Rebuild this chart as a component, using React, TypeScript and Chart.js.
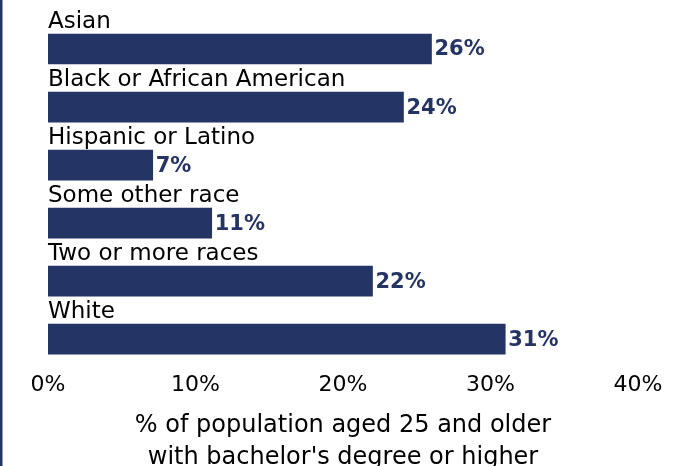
import React, { useEffect, useRef } from "react";
import { Chart, registerables } from "chart.js";

Chart.register(...registerables);

const categories = [
  "Asian",
  "Black or African American",
  "Hispanic or Latino",
  "Some other race",
  "Two or more races",
  "White",
];
const values = [26.0, 24.1, 7.1, 11.1, 22.0, 31.0];
const xTicks = [0, 10, 20, 30, 40];
const axisTitle = ["% of population aged 25 and older", "with bachelor's degree or higher"];

const NAVY = "#243465";
const FONT = "'DejaVu Sans', sans-serif";

const labelPlugin = {
  id: "catLabels",
  afterDatasetsDraw(chart: any) {
    const { ctx } = chart;
    const meta = chart.getDatasetMeta(0);
    ctx.save();
    meta.data.forEach((bar: any, i: number) => {
      const top = bar.y - bar.height / 2;
      ctx.fillStyle = "#000";
      ctx.font = `23px ${FONT}`;
      ctx.textAlign = "left";
      ctx.textBaseline = "alphabetic";
      ctx.fillText(categories[i], bar.base, top - 6);
      ctx.fillStyle = NAVY;
      ctx.font = `bold 21px ${FONT}`;
      ctx.textBaseline = "middle";
      ctx.fillText(Math.round(values[i]) + "%", bar.x + 3, bar.y + 1);
    });
    ctx.fillStyle = NAVY;
    ctx.fillRect(0, 0, 2.5, chart.height);
    ctx.restore();
  },
};

export default function App() {
  const ref = useRef<HTMLCanvasElement>(null);
  useEffect(() => {
    if (!ref.current) return;
    const chart = new Chart(ref.current, {
      type: "bar",
      data: {
        labels: categories,
        datasets: [
          {
            data: values,
            backgroundColor: NAVY,
            barThickness: 30,
          },
        ],
      },
      options: {
        indexAxis: "y",
        animation: false,
        responsive: false,
        maintainAspectRatio: false,
        layout: { padding: { left: 48, right: 41, top: 20, bottom: 0 } },
        plugins: { legend: { display: false }, tooltip: { enabled: false } },
        scales: {
          y: { display: false },
          x: {
            min: xTicks[0],
            max: xTicks[xTicks.length - 1],
            grid: { display: false, drawTicks: false },
            border: { display: false },
            afterBuildTicks: (axis: any) => {
              axis.ticks = xTicks.map((v) => ({ value: v }));
            },
            ticks: {
              color: "#000",
              font: { family: FONT, size: 22 },
              padding: 4,
              maxRotation: 0,
              callback: (v: any) => v + "%",
            },
            title: {
              display: true,
              text: axisTitle,
              color: "#000",
              font: { family: FONT, size: 24, lineHeight: 1.3 },
              padding: { top: 8, bottom: 0 },
            },
          },
        },
      },
      plugins: [labelPlugin],
    });
    return () => chart.destroy();
  }, []);
  return (
    <div style={{ position: "absolute", left: 0, top: 0, width: 679, height: 473 }}>
      <canvas ref={ref} width={679} height={473} style={{ width: 679, height: 473 }} />
    </div>
  );
}
